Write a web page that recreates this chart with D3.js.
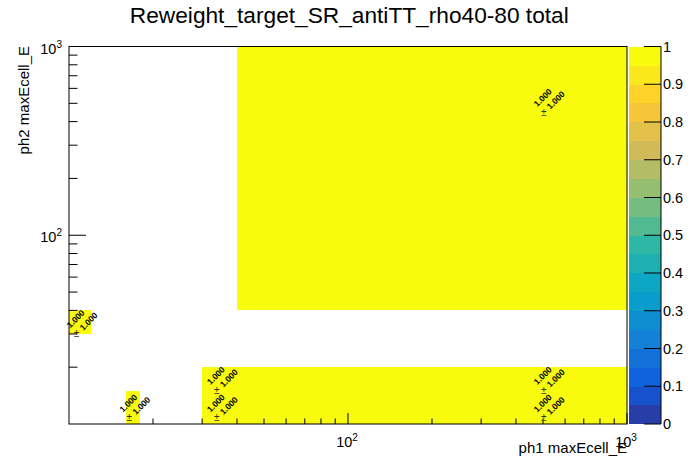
<!DOCTYPE html>
<html>
<head>
<meta charset="utf-8">
<script src="https://cdn.jsdelivr.net/npm/d3@7"></script>
<style>
  body { margin: 0; background: #fff; }
  text { font-family: "Liberation Sans", Arial, Helvetica, sans-serif; }
</style>
</head>
<body>
<script>
// filled bins (edges in GeV), all with content 1 +- 1
const binXLow  = [10, 16, 30, 30, 40, 40, 40];
const binXHigh = [12, 18, 40, 40, 1000, 1000, 1000];
const binYLow  = [30, 10, 10, 15, 10, 15, 40];
const binYHigh = [40, 15, 15, 20, 15, 20, 1000];
const binContent = [1, 1, 1, 1, 1, 1, 1];
const binError   = [1, 1, 1, 1, 1, 1, 1];

const xDomain = [10, 1000];
const yDomain = [10, 1000];
const zLevels = 20;
const zTicks = [0, 0.1, 0.2, 0.3, 0.4, 0.5, 0.6, 0.7, 0.8, 0.9, 1];

const titleText = "Reweight_target_SR_antiTT_rho40-80 total";
const xTitle = "ph1 maxEcell_E";
const yTitle = "ph2 maxEcell_E";

// kBird palette stops
const birdStops = [0.0, 0.125, 0.25, 0.375, 0.5, 0.625, 0.75, 0.875, 1.0];
const birdR = [0.2082, 0.0592, 0.0780, 0.0232, 0.1802, 0.5301, 0.8186, 0.9956, 0.9764];
const birdG = [0.1664, 0.3599, 0.5041, 0.6419, 0.7178, 0.7492, 0.7328, 0.7862, 0.9832];
const birdB = [0.5293, 0.8684, 0.8385, 0.7914, 0.6425, 0.4662, 0.3499, 0.1968, 0.0539];

const birdColor = d3.scaleLinear()
    .domain(birdStops)
    .range(birdStops.map((s, i) => d3.rgb(birdR[i] * 255, birdG[i] * 255, birdB[i] * 255)))
    .interpolate(d3.interpolateRgb);

// color of contour level like ROOT does it
function levelColor(level) {
    let idx = Math.floor((level + 0.99) * 255 / zLevels);
    return birdColor(Math.min(idx, 254) / 254);
}
function valueColor(v) {
    let level = Math.min(zLevels - 1, Math.floor(v * zLevels));
    return levelColor(level);
}

const W = 696, H = 472;
const frame = { left: 69, right: 627, top: 46.5, bottom: 424 };

const svg = d3.select("body").append("svg")
    .attr("width", W)
    .attr("height", H);

const x = d3.scaleLog().domain(xDomain).range([frame.left, frame.right]);
const y = d3.scaleLog().domain(yDomain).range([frame.bottom, frame.top]);

svg.append("clipPath").attr("id", "frameclip")
    .append("rect")
    .attr("x", frame.left).attr("y", frame.top)
    .attr("width", frame.right - frame.left)
    .attr("height", frame.bottom - frame.top);

const bins = binContent.map((v, i) => ({
    x0: binXLow[i], x1: binXHigh[i], y0: binYLow[i], y1: binYHigh[i], v: v, e: binError[i]
}));

svg.append("g")
    .attr("clip-path", "url(#frameclip)")
    .attr("shape-rendering", "crispEdges")
    .selectAll("rect")
    .data(bins)
    .enter().append("rect")
    .attr("x", d => x(d.x0))
    .attr("y", d => y(d.y1))
    .attr("width", d => x(d.x1) - x(d.x0))
    .attr("height", d => y(d.y0) - y(d.y1))
    .attr("fill", d => valueColor(d.v));

// frame
svg.append("rect")
    .attr("x", frame.left).attr("y", frame.top)
    .attr("width", frame.right - frame.left)
    .attr("height", frame.bottom - frame.top)
    .attr("fill", "none")
    .attr("stroke", "black")
    .attr("stroke-width", 1);

// log ticks
function logTicks(domain) {
    let out = [];
    for (let p = 1; p <= 3; p++) {
        for (let m = 1; m <= 9; m++) {
            let v = m * Math.pow(10, p);
            if (v > domain[0] * 1.0001 && v <= domain[1] * 1.0001) out.push({ v: v, major: m === 1 });
        }
    }
    return out;
}

const xt = logTicks(xDomain);
svg.append("g").selectAll("line")
    .data(xt)
    .enter().append("line")
    .attr("x1", d => x(d.v)).attr("x2", d => x(d.v))
    .attr("y1", frame.bottom)
    .attr("y2", d => frame.bottom - (d.major ? 11 : 5.5))
    .attr("stroke", "black");

const yt = logTicks(yDomain);
svg.append("g").selectAll("line")
    .data(yt)
    .enter().append("line")
    .attr("y1", d => y(d.v)).attr("y2", d => y(d.v))
    .attr("x1", frame.left)
    .attr("x2", d => frame.left + (d.major ? 17 : 8.5))
    .attr("stroke", "black");

// tick labels 10^n
function powerLabel(sel, exp) {
    sel.append("tspan").text("10");
    sel.append("tspan").attr("font-size", 10).attr("dy", -6).text(exp);
}
xt.filter(d => d.major).forEach(d => {
    let t = svg.append("text")
        .attr("x", x(d.v) - 1).attr("y", 446.5)
        .attr("text-anchor", "middle")
        .attr("font-size", 14.5);
    powerLabel(t, Math.round(Math.log10(d.v)));
});
yt.filter(d => d.major).forEach(d => {
    let t = svg.append("text")
        .attr("x", 62).attr("y", y(d.v) + 7)
        .attr("text-anchor", "end")
        .attr("font-size", 14.5);
    powerLabel(t, Math.round(Math.log10(d.v)));
});

// axis titles
svg.append("text")
    .attr("x", 627).attr("y", 453)
    .attr("text-anchor", "end")
    .attr("font-size", 15)
    .text(xTitle);

svg.append("text")
    .attr("transform", "translate(29," + 46 + ") rotate(-90)")
    .attr("text-anchor", "end")
    .attr("font-size", 15)
    .text(yTitle);

// title
svg.append("text")
    .attr("x", 349.3).attr("y", 23)
    .attr("text-anchor", "middle")
    .attr("font-size", 22.7)
    .text(titleText);

// bin text: value and error
const fmt = d3.format(".3f");
const lbl = svg.append("g");
bins.forEach(d => {
    let cx = x((d.x0 + d.x1) / 2);
    let cy = y((d.y0 + d.y1) / 2);
    lbl.append("text")
        .attr("transform", "translate(" + (cx - 5) + "," + (cy - 2.5) + ") rotate(-45)")
        .attr("text-anchor", "middle").attr("dy", "0.35em")
        .attr("font-size", 8.5).attr("font-weight", "bold")
        .text(fmt(d.v));
    lbl.append("text")
        .attr("transform", "translate(" + (cx + 8) + "," + (cy) + ") rotate(-45)")
        .attr("text-anchor", "middle").attr("dy", "0.35em")
        .attr("font-size", 8.5).attr("font-weight", "bold")
        .text(fmt(d.e));
    lbl.append("text")
        .attr("x", cx - 4).attr("y", cy + 12)
        .attr("text-anchor", "middle").attr("dy", "0.35em")
        .attr("font-size", 10).attr("fill", "#333")
        .text("\u00b1");
});

// palette axis
const pal = { left: 629, right: 661 };
const z = d3.scaleLinear().domain([0, 1]).range([frame.bottom, frame.top]);
const levels = d3.range(zLevels);
svg.append("g")
    .attr("shape-rendering", "crispEdges")
    .selectAll("rect")
    .data(levels)
    .enter().append("rect")
    .attr("x", pal.left)
    .attr("y", d => z((d + 1) / zLevels))
    .attr("width", pal.right - pal.left)
    .attr("height", d => z(d / zLevels) - z((d + 1) / zLevels) + 0.3)
    .attr("fill", d => levelColor(d));

svg.append("line")
    .attr("x1", pal.right).attr("x2", pal.right)
    .attr("y1", frame.top).attr("y2", frame.bottom)
    .attr("stroke", "black");

svg.append("g").selectAll("line")
    .data(zTicks)
    .enter().append("line")
    .attr("x1", pal.right - 17).attr("x2", pal.right)
    .attr("y1", d => z(d)).attr("y2", d => z(d))
    .attr("stroke", "black");

svg.append("g").selectAll("text")
    .data(zTicks)
    .enter().append("text")
    .attr("x", 663).attr("y", d => z(d) + 5)
    .attr("font-size", 14.5)
    .text(d => d3.format("")(+d.toFixed(1)));
</script>
</body>
</html>
